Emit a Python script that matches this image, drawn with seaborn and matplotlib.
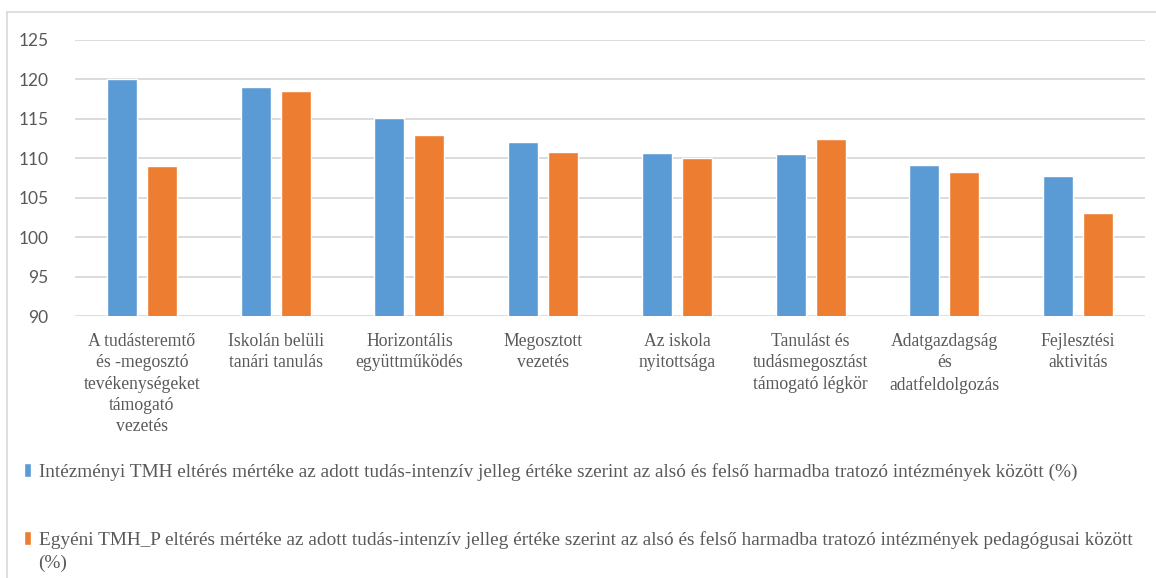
import matplotlib
matplotlib.use("Agg")
import matplotlib.pyplot as plt
import seaborn as sns
import pandas as pd
from matplotlib.lines import Line2D
from matplotlib.patches import Patch

categories = [
    "A tudásteremtő\nés -megosztó\ntevékenységeket\ntámogató\nvezetés",
    "Iskolán belüli\ntanári tanulás",
    "Horizontális\negyüttműködés",
    "Megosztott\nvezetés",
    "Az iskola\nnyitottsága",
    "Tanulást és\ntudásmegosztást\ntámogató légkör",
    "Adatgazdagság\nés\nadatfeldolgozás",
    "Fejlesztési\naktivitás",
]
series_names = [
    "Intézményi TMH eltérés mértéke az adott tudás-intenzív jelleg értéke szerint az alsó és felső harmadba tratozó intézmények között (%)",
    "Egyéni TMH_P eltérés mértéke az adott tudás-intenzív jelleg értéke szerint az alsó és felső harmadba tratozó intézmények pedagógusai között",
]
blue_values = [120.0, 119.0, 115.1, 112.1, 110.7, 110.5, 109.2, 107.8]
orange_values = [109.0, 118.5, 112.9, 110.8, 110.0, 112.4, 108.3, 103.1]
yticks = [90, 95, 100, 105, 110, 115, 120, 125]
colors = ["#5B9BD5", "#ED7D31"]

df = pd.DataFrame({
    "cat": categories * 2,
    "series": [series_names[0]] * len(categories) + [series_names[1]] * len(categories),
    "value": blue_values + orange_values,
})

sns.set_theme(style="white")
plt.rcParams["font.family"] = ["Liberation Serif", "DejaVu Sans"]

W, H = 1156, 578
fig = plt.figure(figsize=(W / 100, H / 100), dpi=100)
ax = fig.add_axes([75 / W, 1 - 316 / H, (1145 - 75) / W, (316 - 40) / H])

sns.barplot(data=df, x="cat", y="value", hue="series", palette=colors,
            width=0.6, gap=0.25, ax=ax, legend=False, saturation=1,
            order=categories, hue_order=series_names)

ax.set_ylim(90, 125)
ax.set_yticks(yticks)
ax.set_xlim(-0.5, len(categories) - 0.5)
ax.set_axisbelow(True)
ax.yaxis.grid(True, color="#d9d9d9", linewidth=1.3)
ax.xaxis.grid(False)
for s in ax.spines.values():
    s.set_visible(False)
ax.set_xlabel("")
ax.set_ylabel("")
ax.tick_params(axis="y", length=0, pad=19, labelsize=12.5, labelcolor="#595959")
ax.tick_params(axis="x", length=0, pad=12, labelsize=12.7, labelcolor="#595959")
for lbl in ax.get_yticklabels():
    lbl.set_fontfamily(["Lato", "DejaVu Sans"])
for lbl in ax.get_xticklabels():
    lbl.set_linespacing(1.34)

# legend below
handles = [Patch(facecolor=colors[0]), Patch(facecolor=colors[1])]
leg = fig.legend(handles, series_names, loc="upper left",
                 bbox_to_anchor=(14 / W, 1 - 453 / H), frameon=False,
                 fontsize=13.9, handlelength=0.4, handleheight=0.7,
                 handletextpad=0.4, labelspacing=2.6, borderpad=0,
                 labelcolor="#595959")
fig.text(38 / W, 1 - 563 / H, "(%)", fontsize=13.9, color="#595959",
         va="center", ha="left")

# chart border
fig.add_artist(Line2D([7 / W, 7 / W], [0, 1 - 12 / H], color="#d9d9d9", lw=1.2,
                      transform=fig.transFigure))
fig.add_artist(Line2D([7 / W, 1], [1 - 12 / H, 1 - 12 / H], color="#d9d9d9", lw=1.2,
                      transform=fig.transFigure))

fig.savefig("out.png", dpi=100)
